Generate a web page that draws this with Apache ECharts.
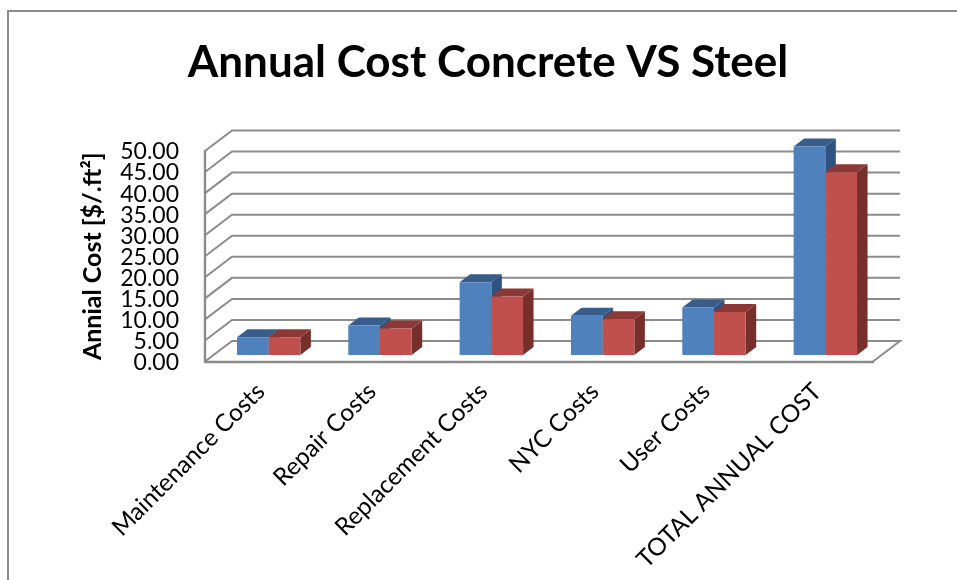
<!DOCTYPE html>
<html><head><meta charset="utf-8">
<style>html,body{margin:0;padding:0;background:#fff}#c{width:957px;height:580px;filter:blur(0.45px)}</style>
<script src="https://cdn.jsdelivr.net/npm/echarts@6/dist/echarts.min.js"></script>
</head><body><div id="c"></div>
<script>
const categories = ['Maintenance Costs','Repair Costs','Replacement Costs','NYC Costs','User Costs','TOTAL ANNUAL COST'];
const concrete = [4.2, 7.0, 17.3, 9.3, 11.3, 49.5];
const steel = [4.2, 6.3, 13.9, 8.5, 10.2, 43.4];
const gridValues = [0,5,10,15,20,25,30,35,40,45,50];

const wallDepth = [27, -20.5], barOffset = [8, -6.5], barDepth = [10.5, -8];
const barWidth = 31.7, lineColor = '#8c8c8c', font = 'Lato';

function wallItem(params, api) {
  const cs = params.coordSys, v = api.value(1), y = api.coord([0, v])[1];
  const x0 = cs.x, x1 = cs.x + cs.width;
  const pts = [[x0, y], [x0 + wallDepth[0], y + wallDepth[1]], [x1 + wallDepth[0], y + wallDepth[1]]];
  if (v === 0) pts.push([x1, y]);
  return {type: 'group', children: [
    {type: 'polyline', shape: {points: pts}, style: {fill: 'none', stroke: lineColor, lineWidth: 2}},
    {type: 'text', x: x0 - 26, y: y + 1, style: {text: v.toFixed(2), fill: '#000', align: 'right', verticalAlign: 'middle',
      font: '23px ' + font}}
  ]};
}
function barItem(sign, front, top, side) {
  return function (params, api) {
    const c = api.coord([api.value(0), api.value(1)]), b = api.coord([api.value(0), 0]);
    const xl = c[0] + barOffset[0] + (sign < 0 ? -barWidth : 0), xr = xl + barWidth;
    const yt = c[1] + barOffset[1], yb = b[1] + barOffset[1];
    const dx = barDepth[0], dy = barDepth[1];
    return {type: 'group', children: [
      {type: 'polygon', shape: {points: [[xr, yt], [xr + dx, yt + dy], [xr + dx, yb + dy], [xr, yb]]}, style: {fill: side}},
      {type: 'polygon', shape: {points: [[xl, yt], [xl + dx, yt + dy], [xr + dx, yt + dy], [xr, yt]]}, style: {fill: top}},
      {type: 'rect', shape: {x: xl, y: yt, width: barWidth, height: yb - yt}, style: {fill: front}}
    ]};
  };
}
const chart = echarts.init(document.getElementById('c'), null, {renderer: 'canvas'});
chart.setOption({
  animation: false,
  backgroundColor: '#fff',
  title: {text: 'Annual Cost Concrete VS Steel', left: 483, top: 36, textAlign: 'center',
    textStyle: {fontFamily: font, fontWeight: 'bold', fontSize: 44, color: '#000'}},
  graphic: [{type: 'rect', silent: true, shape: {x: 8, y: 11, width: 1200, height: 900},
    style: {fill: 'none', stroke: '#8c8c8c', lineWidth: 2}}],
  grid: {left: 205, top: 151, width: 668, height: 210.5},
  xAxis: {type: 'category', data: categories,
    axisLine: {lineStyle: {color: lineColor, width: 2.4}}, axisTick: {show: false},
    axisLabel: {rotate: 45, margin: 26, interval: 0, color: '#000', fontFamily: font, fontSize: 24.3}},
  yAxis: {type: 'value', min: 0, max: 50, interval: 5,
    name: 'Annial Cost [$/.ft²]', nameLocation: 'middle', nameGap: 100,
    nameTextStyle: {fontFamily: font, fontWeight: 'bold', fontSize: 25, color: '#000'},
    axisLine: {show: true, lineStyle: {color: lineColor, width: 2.4}}, axisTick: {show: false},
    splitLine: {show: false},
    axisLabel: {show: false}},
  series: [
    {type: 'custom', name: 'Walls', silent: true, z: 1, data: gridValues.map(v => [0, v]), renderItem: wallItem, encode: {x: 0, y: 1}},
    {type: 'custom', name: 'Concrete', z: 3, data: concrete.map((v, i) => [i, v]), encode: {x: 0, y: 1},
      renderItem: barItem(-1, '#4f81bd', '#385d8a', '#2f5280')},
    {type: 'custom', name: 'Steel', z: 4, data: steel.map((v, i) => [i, v]), encode: {x: 0, y: 1},
      renderItem: barItem(1, '#c0504d', '#8c3836', '#772f2c')}
  ]
});
</script></body></html>
